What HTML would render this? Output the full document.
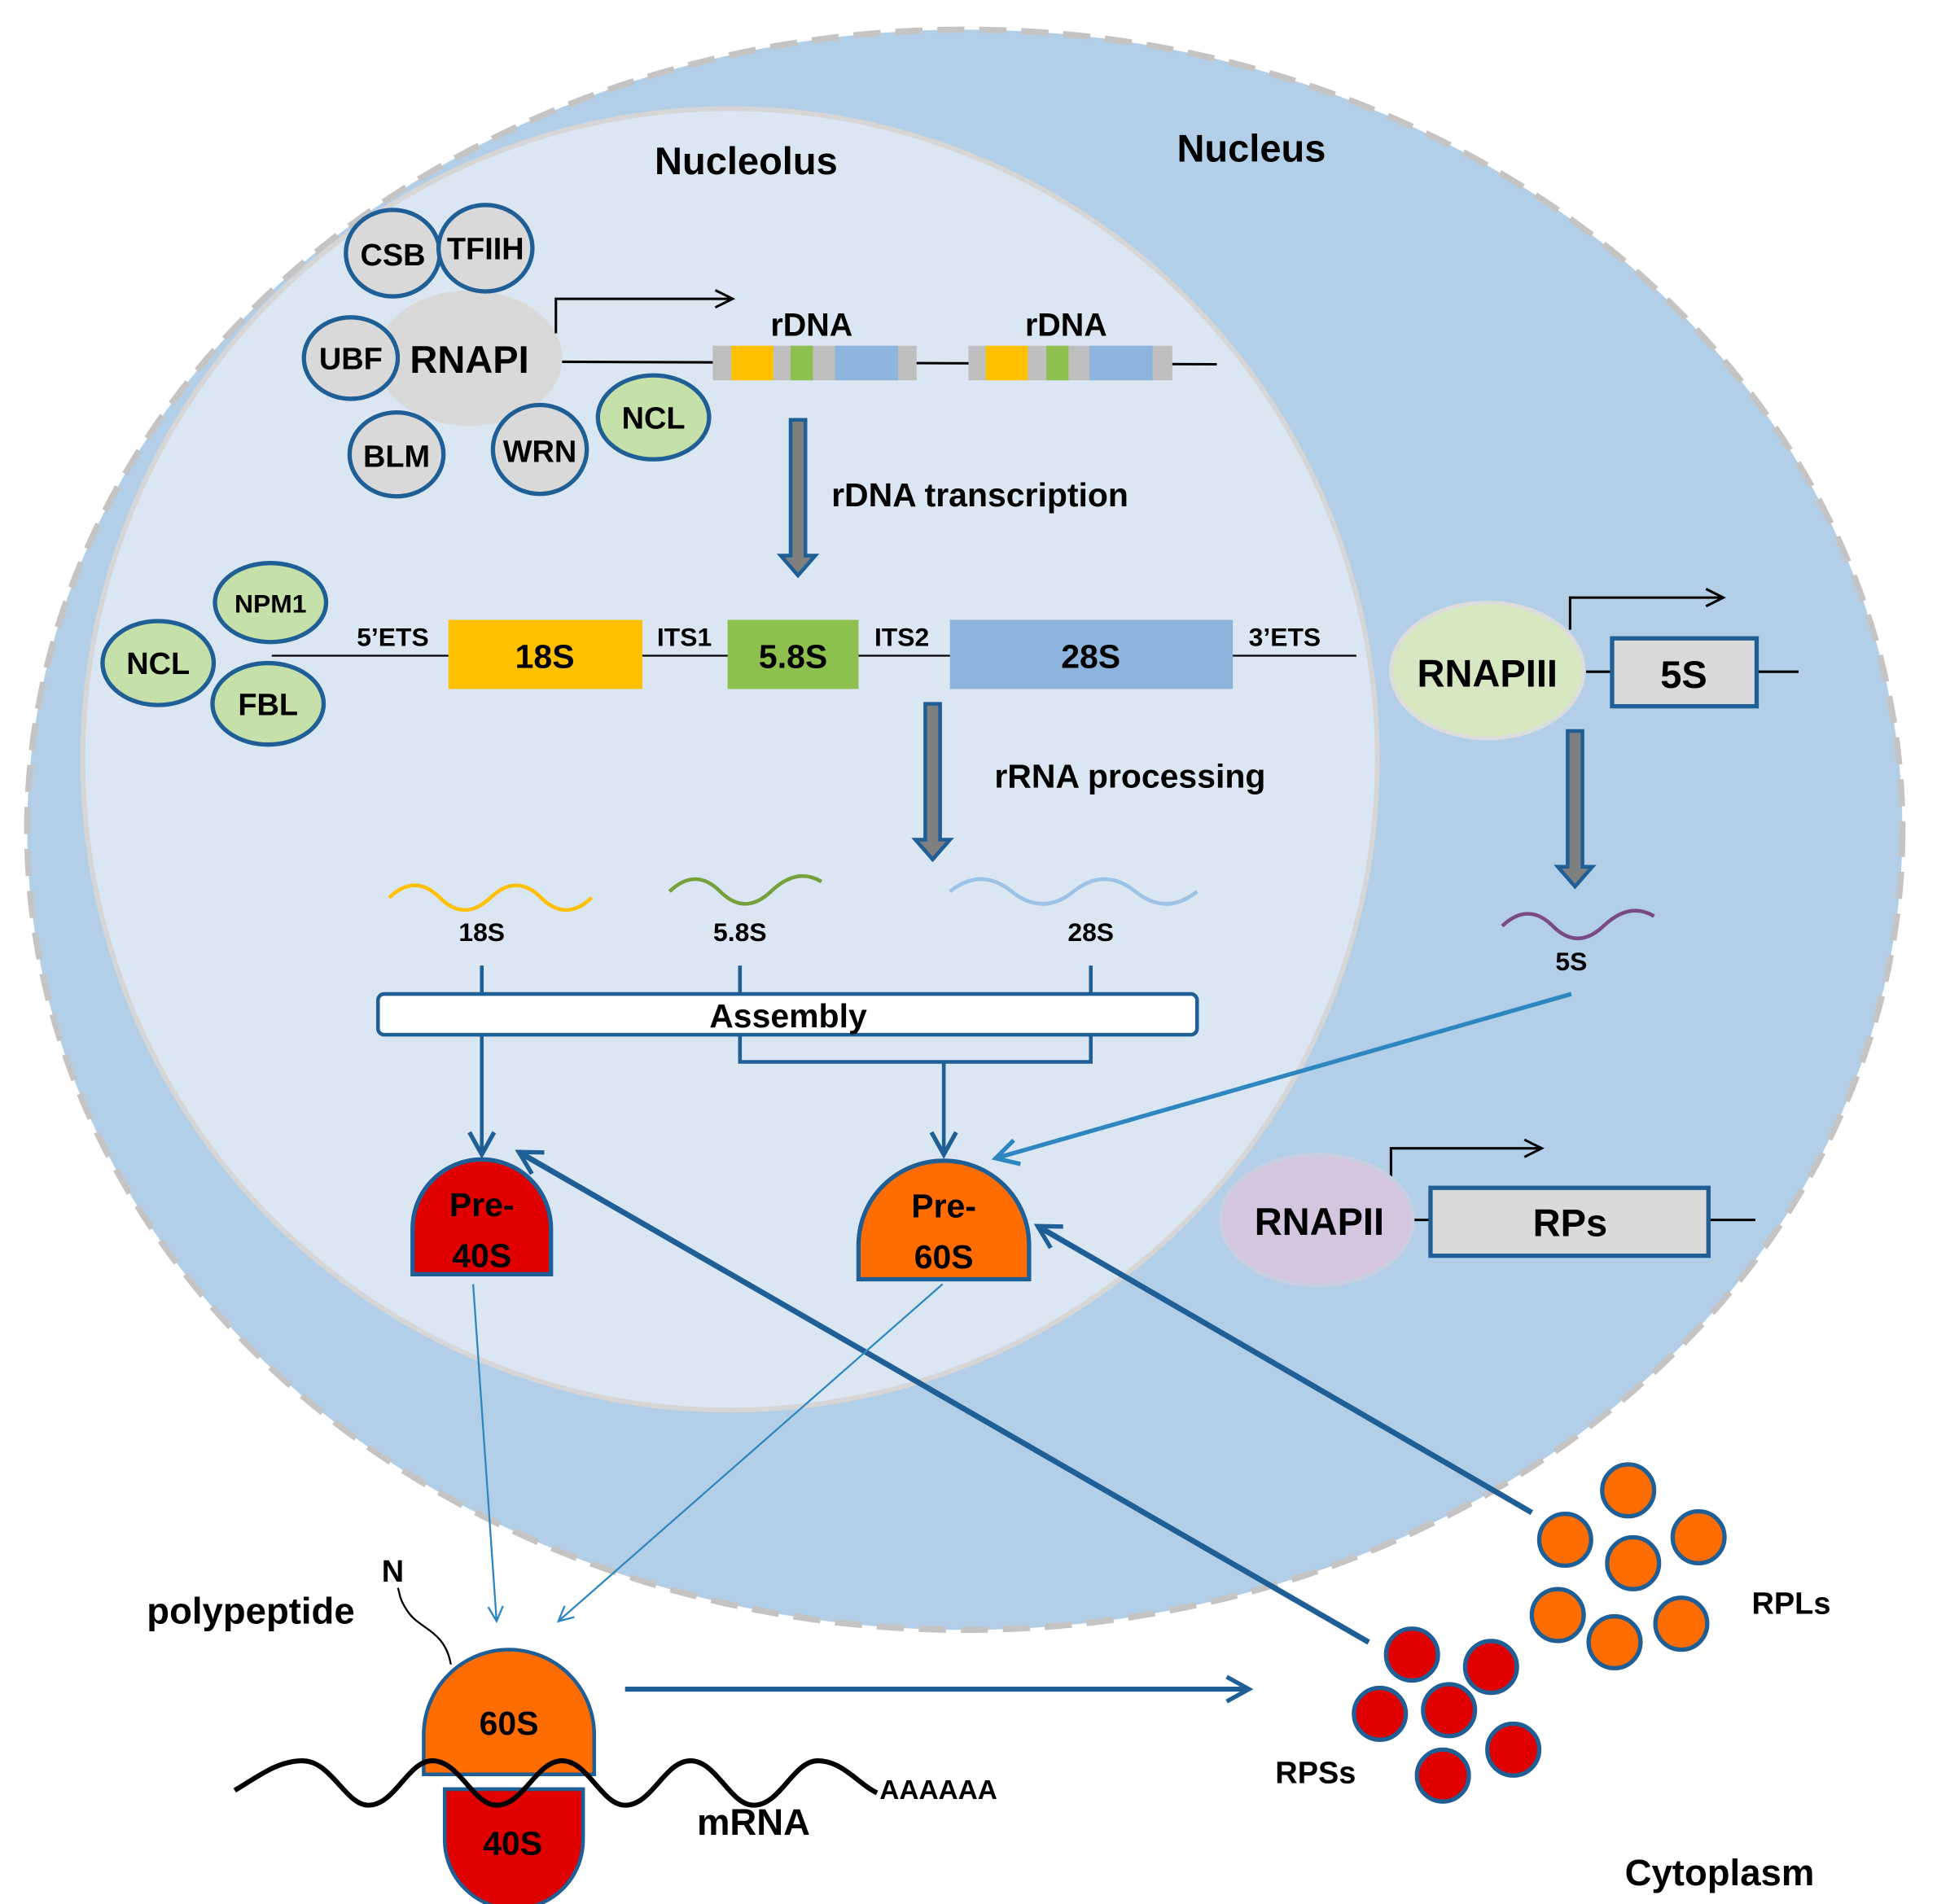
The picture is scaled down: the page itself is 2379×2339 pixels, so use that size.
<!DOCTYPE html>
<html><head><meta charset="utf-8"><style>
html,body{margin:0;padding:0;background:#fff}
svg{display:block}
text{font-family:"Liberation Sans",sans-serif;font-weight:bold;fill:#000}
</style></head><body>
<svg width="2379" height="2339" viewBox="0 0 1568 1542" preserveAspectRatio="none" xmlns="http://www.w3.org/2000/svg">
<defs>
<marker id="abig" markerWidth="24" markerHeight="24" refX="20" refY="12" orient="auto" markerUnits="userSpaceOnUse" viewBox="0 0 24 24"><path d="M2,2 L20,12 L2,22" fill="none" stroke="#1f5f96" stroke-width="3.5"/></marker>
<marker id="alt" markerWidth="24" markerHeight="24" refX="20" refY="12" orient="auto" markerUnits="userSpaceOnUse" viewBox="0 0 24 24"><path d="M2,2 L20,12 L2,22" fill="none" stroke="#2e86c1" stroke-width="3.5"/></marker>
<marker id="athin" markerWidth="16" markerHeight="16" refX="14" refY="8" orient="auto" markerUnits="userSpaceOnUse" viewBox="0 0 16 16"><path d="M2,2 L14,8 L2,14" fill="none" stroke="#2e86c1" stroke-width="1.5"/></marker>
<marker id="ak" markerWidth="20" markerHeight="20" refX="17" refY="10" orient="auto" markerUnits="userSpaceOnUse" viewBox="0 0 20 20"><path d="M3,3 L17,10 L3,17" fill="none" stroke="#000" stroke-width="2"/></marker>
</defs>
<rect width="1568" height="1542" fill="#fff"/>
<ellipse cx="781" cy="672" rx="759" ry="648" fill="#b3cfe7" stroke="#c4c4c4" stroke-width="5" stroke-dasharray="22,12"/>
<ellipse cx="591" cy="615" rx="524" ry="527" fill="#dae6f2" stroke="#d6d6d6" stroke-width="4"/>
<text x="604" y="141" font-size="31" text-anchor="middle">Nucleolus</text>
<text x="1013" y="131" font-size="31" text-anchor="middle">Nucleus</text>

<ellipse cx="380" cy="290" rx="75" ry="55" fill="#d9d9d9"/>
<g stroke="#1f5f96" stroke-width="3.5" fill="#d9d9d9">
<ellipse cx="318" cy="205" rx="38" ry="35"/>
<ellipse cx="393" cy="201" rx="38" ry="35"/>
<ellipse cx="284" cy="290" rx="38" ry="33"/>
<ellipse cx="321" cy="368" rx="38" ry="34"/>
<ellipse cx="437" cy="364" rx="38" ry="36"/>
<ellipse cx="529" cy="338" rx="45" ry="34" fill="#c5e0a9"/>
<ellipse cx="219" cy="488" rx="45" ry="32" fill="#c5e0a9"/>
<ellipse cx="128" cy="537" rx="45" ry="34" fill="#c5e0a9"/>
<ellipse cx="217" cy="570" rx="45" ry="33" fill="#c5e0a9"/>
</g>
<text x="318" y="215" font-size="25" text-anchor="middle">CSB</text>
<text x="393" y="210" font-size="25" text-anchor="middle">TFIIH</text>
<text x="284" y="299" font-size="25" text-anchor="middle">UBF</text>
<text x="380" y="302" font-size="31" text-anchor="middle">RNAPI</text>
<text x="321" y="378" font-size="25" text-anchor="middle">BLM</text>
<text x="437" y="374" font-size="25" text-anchor="middle">WRN</text>
<text x="529" y="347" font-size="25" text-anchor="middle">NCL</text>
<text x="219" y="496" font-size="21" text-anchor="middle">NPM1</text>
<text x="128" y="546" font-size="25" text-anchor="middle">NCL</text>
<text x="217" y="579" font-size="25" text-anchor="middle">FBL</text>

<path d="M450,270 V242 H593" fill="none" stroke="#000" stroke-width="2" marker-end="url(#ak)"/>
<line x1="455" y1="293" x2="985" y2="295" stroke="#000" stroke-width="2"/>
<rect x="577" y="280" width="165" height="28" fill="#bfbfbf"/>
<rect x="592" y="280" width="34" height="28" fill="#ffc000"/>
<rect x="640" y="280" width="18" height="28" fill="#8dc04f"/>
<rect x="676" y="280" width="51" height="28" fill="#8db4dc"/>
<rect x="784" y="280" width="165" height="28" fill="#bfbfbf"/>
<rect x="798" y="280" width="34" height="28" fill="#ffc000"/>
<rect x="847" y="280" width="18" height="28" fill="#8dc04f"/>
<rect x="882" y="280" width="51" height="28" fill="#8db4dc"/>
<text x="657" y="272" font-size="26" text-anchor="middle">rDNA</text>
<text x="863" y="272" font-size="26" text-anchor="middle">rDNA</text>

<g fill="#7f7f7f" stroke="#1f5f96" stroke-width="3">
<path d="M640,340 H652 V450 H660 L646,466 L632,450 H640 Z"/>
<path d="M749,570 H761 V680 H769 L755,696 L741,680 H749 Z"/>
<path d="M1269,592 H1281 V702 H1289 L1275,718 L1261,702 H1269 Z"/>
</g>
<text x="673" y="410" font-size="27">rDNA transcription</text>
<text x="805" y="638" font-size="27">rRNA processing</text>

<line x1="220" y1="531" x2="1098" y2="531" stroke="#000" stroke-width="1.5"/>
<rect x="363" y="502" width="157" height="56" fill="#ffc000"/>
<rect x="589" y="502" width="106" height="56" fill="#8dc04f"/>
<rect x="769" y="502" width="229" height="56" fill="#8db4dc"/>
<text x="441" y="541" font-size="27" text-anchor="middle">18S</text>
<text x="642" y="541" font-size="27" text-anchor="middle">5.8S</text>
<text x="883" y="541" font-size="27" text-anchor="middle">28S</text>
<text x="318" y="523" font-size="21" text-anchor="middle">5’ETS</text>
<text x="554" y="523" font-size="21" text-anchor="middle">ITS1</text>
<text x="730" y="523" font-size="21" text-anchor="middle">ITS2</text>
<text x="1040" y="523" font-size="21" text-anchor="middle">3’ETS</text>

<path d="M315,727 q21,-20 41,0 t41,0 t41,0 t41,0" fill="none" stroke="#ffc000" stroke-width="3"/>
<path d="M542,722 q21,-20 41,0 t41,0 t41,-8" fill="none" stroke="#76a03c" stroke-width="3"/>
<path d="M769,722 q25,-20 50,0 t50,0 t50,0 t50,0" fill="none" stroke="#9cc2e5" stroke-width="3"/>
<text x="390" y="762" font-size="21" text-anchor="middle">18S</text>
<text x="599" y="762" font-size="21" text-anchor="middle">5.8S</text>
<text x="883" y="762" font-size="21" text-anchor="middle">28S</text>
<g stroke="#1f5f96" stroke-width="3" fill="none">
<line x1="390" y1="782" x2="390" y2="806"/>
<line x1="599" y1="782" x2="599" y2="806"/>
<line x1="883" y1="782" x2="883" y2="806"/>
<path d="M599,838 V860 H883 V838"/>
<line x1="390" y1="838" x2="390" y2="935" marker-end="url(#abig)"/>
<line x1="764" y1="860" x2="764" y2="935" marker-end="url(#abig)"/>
</g>
<rect x="306" y="805" width="663" height="33" rx="5" fill="#fff" stroke="#1f5f96" stroke-width="3"/>
<text x="638" y="832" font-size="27" text-anchor="middle">Assembly</text>

<path d="M334,1032 V995 A56,56 0 0 1 446,995 V1032 Z" fill="#e00000" stroke="#1f5f96" stroke-width="3.5"/>
<text x="390" y="985" font-size="27" text-anchor="middle">Pre-</text>
<text x="390" y="1026" font-size="27" text-anchor="middle">40S</text>
<path d="M695,1036 V1008 A69,68 0 0 1 833,1008 V1036 Z" fill="#ff6d00" stroke="#1f5f96" stroke-width="3.5"/>
<text x="764" y="986" font-size="27" text-anchor="middle">Pre-</text>
<text x="764" y="1027" font-size="27" text-anchor="middle">60S</text>

<path d="M1271,510 V484 H1395" fill="none" stroke="#000" stroke-width="2" marker-end="url(#ak)"/>
<ellipse cx="1204" cy="543" rx="78" ry="55" fill="#d6e8c2" stroke="#dcdcdc" stroke-width="3"/>
<text x="1204" y="556" font-size="31" text-anchor="middle">RNAPIII</text>
<line x1="1284" y1="544" x2="1305" y2="544" stroke="#000" stroke-width="2"/>
<line x1="1422" y1="544" x2="1456" y2="544" stroke="#000" stroke-width="2"/>
<rect x="1305" y="517" width="117" height="55" fill="#dadada" stroke="#1f5f96" stroke-width="3.5"/>
<text x="1363" y="557" font-size="31" text-anchor="middle">5S</text>
<path d="M1216,750 q21,-20 41,0 t41,0 t41,-8" fill="none" stroke="#7a4a85" stroke-width="3"/>
<text x="1272" y="786" font-size="21" text-anchor="middle">5S</text>
<line x1="1272" y1="805" x2="806" y2="938" stroke="#2e86c1" stroke-width="3.5" marker-end="url(#alt)"/>

<path d="M1126,957 V930 H1248" fill="none" stroke="#000" stroke-width="2" marker-end="url(#ak)"/>
<ellipse cx="1066" cy="988" rx="78" ry="53" fill="#d5c6df" stroke="#c8cfe0" stroke-width="3"/>
<text x="1068" y="1000" font-size="31" text-anchor="middle">RNAPII</text>
<line x1="1145" y1="988" x2="1158" y2="988" stroke="#000" stroke-width="2"/>
<line x1="1383" y1="988" x2="1421" y2="988" stroke="#000" stroke-width="2"/>
<rect x="1158" y="962" width="225" height="55" fill="#dadada" stroke="#1f5f96" stroke-width="3.5"/>
<text x="1271" y="1001" font-size="31" text-anchor="middle">RPs</text>

<line x1="1108" y1="1330" x2="420" y2="933" stroke="#1f5f96" stroke-width="4.5" marker-end="url(#abig)"/>
<line x1="1240" y1="1225" x2="840" y2="993" stroke="#1f5f96" stroke-width="4.5" marker-end="url(#abig)"/>
<line x1="383" y1="1040" x2="402" y2="1313" stroke="#2e86c1" stroke-width="1.5" marker-end="url(#athin)"/>
<line x1="763" y1="1040" x2="452" y2="1313" stroke="#2e86c1" stroke-width="1.5" marker-end="url(#athin)"/>
<line x1="506" y1="1368" x2="1011" y2="1368" stroke="#1f5f96" stroke-width="4" marker-end="url(#abig)"/>

<path d="M365,1348 C360,1320 340,1320 330,1305 C322,1293 324,1290 322,1286" fill="none" stroke="#000" stroke-width="1.5"/>
<text x="318" y="1281" font-size="25" text-anchor="middle">N</text>
<text x="203" y="1315" font-size="30" text-anchor="middle">polypeptide</text>
<path d="M343,1437 V1405 A69,69 0 0 1 481,1405 V1437 Z" fill="#ff6d00" stroke="#1f5f96" stroke-width="3"/>
<text x="412" y="1405" font-size="27" text-anchor="middle">60S</text>
<path d="M360,1449 H472 V1490 A56,56 0 0 1 360,1490 Z" fill="#e00000" stroke="#1f5f96" stroke-width="3"/>
<text x="415" y="1502" font-size="27" text-anchor="middle">40S</text>
<path d="M190,1450 C210,1438 225,1426 245,1426 C268,1426 280,1462 298,1462 C320,1462 330,1426 350,1426 C372,1426 383,1462 402,1462 C424,1462 434,1426 455,1426 C476,1426 487,1462 506,1462 C528,1462 538,1426 559,1426 C580,1426 591,1462 610,1462 C632,1462 642,1426 662,1426 C682,1426 695,1445 710,1452" fill="none" stroke="#000" stroke-width="4"/>
<text x="712" y="1457" font-size="22">AAAAAA</text>
<text x="610" y="1486" font-size="30" text-anchor="middle">mRNA</text>

<g fill="#e00000" stroke="#1f5f96" stroke-width="3.5">
<circle cx="1143" cy="1340" r="21"/><circle cx="1207" cy="1350" r="21"/>
<circle cx="1117" cy="1388" r="21"/><circle cx="1173" cy="1385" r="21"/>
<circle cx="1225" cy="1417" r="21"/><circle cx="1168" cy="1438" r="21"/>
</g>
<text x="1065" y="1444" font-size="25" text-anchor="middle">RPSs</text>
<g fill="#ff6d00" stroke="#1f5f96" stroke-width="3.5">
<circle cx="1318" cy="1207" r="21"/><circle cx="1267" cy="1247" r="21"/>
<circle cx="1375" cy="1245" r="21"/><circle cx="1322" cy="1266" r="21"/>
<circle cx="1261" cy="1308" r="21"/><circle cx="1307" cy="1330" r="21"/>
<circle cx="1361" cy="1315" r="21"/>
</g>
<text x="1450" y="1307" font-size="25" text-anchor="middle">RPLs</text>
<text x="1392" y="1527" font-size="30" text-anchor="middle">Cytoplasm</text>
</svg>
</body></html>
